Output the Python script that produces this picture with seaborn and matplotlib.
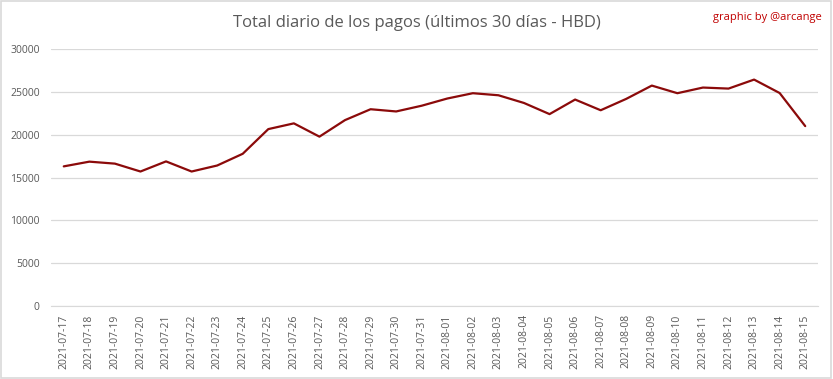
import matplotlib

matplotlib.use("Agg")

import matplotlib.pyplot as plt
import pandas as pd
import seaborn as sns

dates = [
    "2021-07-17", "2021-07-18", "2021-07-19", "2021-07-20", "2021-07-21",
    "2021-07-22", "2021-07-23", "2021-07-24", "2021-07-25", "2021-07-26",
    "2021-07-27", "2021-07-28", "2021-07-29", "2021-07-30", "2021-07-31",
    "2021-08-01", "2021-08-02", "2021-08-03", "2021-08-04", "2021-08-05",
    "2021-08-06", "2021-08-07", "2021-08-08", "2021-08-09", "2021-08-10",
    "2021-08-11", "2021-08-12", "2021-08-13", "2021-08-14", "2021-08-15",
]
totals = [
    16300, 16850, 16620, 15700, 16880,
    15700, 16400, 17770, 20650, 21320,
    19770, 21700, 22970, 22710, 23380,
    24220, 24840, 24600, 23700, 22400,
    24100, 22850, 24180, 25730, 24840,
    25500, 25380, 26430, 24860, 21000,
]
y_ticks = [0, 5000, 10000, 15000, 20000, 25000, 30000]

frame = pd.DataFrame({"fecha": dates, "total": totals})

sns.set_style("white")
plt.rcParams["font.family"] = ["Open Sans", "DejaVu Sans"]

fig = plt.figure(figsize=(8.33, 3.79), dpi=100)
ax = fig.add_axes([0.0612, 0.1926, 0.9208, 0.6781])

sns.lineplot(data=frame, x="fecha", y="total", color="#8b0a0a", linewidth=1.6, ax=ax, sort=False)

ax.set_xlim(-0.5, len(dates) - 0.5)
ax.set_ylim(0, 30000)
ax.set_yticks(y_ticks)
ax.set_yticklabels([str(v) for v in y_ticks])
ax.set_xticks(range(len(dates)))
ax.set_xticklabels(dates, rotation=90)
ax.tick_params(axis="both", length=0, colors="#595959", labelsize=7.5)
ax.tick_params(axis="x", pad=6)
ax.tick_params(axis="y", pad=8)
ax.grid(axis="y", color="#d9d9d9", linewidth=0.9)
ax.set_axisbelow(True)
for side in ["top", "right", "left"]:
    ax.spines[side].set_visible(False)
ax.spines["bottom"].set_color("#d9d9d9")
ax.set_xlabel("")
ax.set_ylabel("")

fig.text(0.5, 0.94, "Total diario de los pagos (últimos 30 días - HBD)",
         ha="center", va="center", fontsize=12, color="#595959")
fig.text(0.987, 0.955, "graphic by @arcange", ha="right", va="center",
         fontsize=8, color="#c00000")

# light frame around the picture
fig.patches.append(plt.Rectangle((0.001, 0.002), 0.997, 0.995, transform=fig.transFigure,
                                 fill=False, edgecolor="#d9d9d9", linewidth=1.2))

fig.savefig("out.png", dpi=100)
plt.close(fig)
